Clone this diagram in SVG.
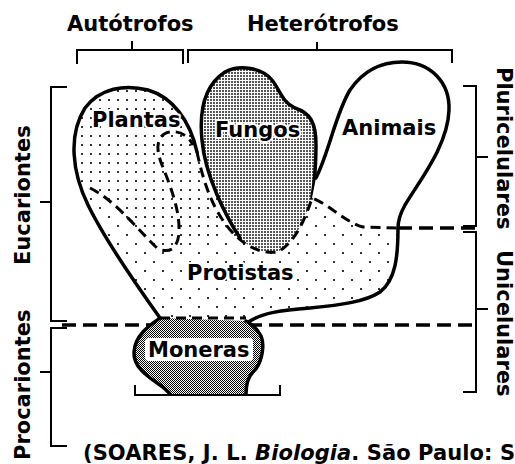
<svg xmlns="http://www.w3.org/2000/svg" width="515" height="464" viewBox="0 0 515 464">
<style>
.t{font-family:"DejaVu Sans","Liberation Sans",sans-serif;font-weight:bold;font-size:21px;fill:#000}
.halo{stroke:#fff;stroke-width:4;stroke-linejoin:round;paint-order:stroke}
.ol{fill:none;stroke:#000;stroke-width:3.5;stroke-linejoin:round;stroke-linecap:round}
.ds{fill:none;stroke:#000;stroke-width:3;stroke-dasharray:10 6}
.hd{fill:none;stroke:#000;stroke-width:3.5;stroke-dasharray:14 7}
.br{fill:none;stroke:#000;stroke-width:2}
</style>
<defs>
<pattern id="pDense" width="9" height="9" patternUnits="userSpaceOnUse"><rect x="0" y="0" width="2" height="2" fill="#333"/></pattern>
<pattern id="pSparse" width="18" height="18" patternUnits="userSpaceOnUse"><rect x="0" y="0" width="2" height="2" fill="#333"/><rect x="9" y="9" width="2" height="2" fill="#333"/></pattern>
<pattern id="pFungos" width="3" height="3" patternUnits="userSpaceOnUse"><rect width="3" height="3" fill="#fff"/><rect x="0" y="0" width="2" height="2" fill="#555"/></pattern>
<pattern id="pMoneras" width="2" height="2" patternUnits="userSpaceOnUse"><rect width="2" height="2" fill="#fff"/><rect x="0" y="0" width="1" height="1" fill="#000"/><rect x="1" y="1" width="1" height="1" fill="#000"/></pattern>
</defs>
<rect width="515" height="464" fill="#fff"/>

<g id="protistas">
<path d="M160,318 C140,290 105,240 88,205 C72,172 68,135 85,108 C100,88 125,84 148,90 C172,97 190,120 197,152 L205,152 L310,165 L312,198 C330,205 345,222 363,227 L398,228 C398,255 396,280 380,292 C365,302 340,305 310,308 C285,310 262,312 247,323 L246,321 Z" fill="url(#pSparse)"/>
<path class="ol" d="M398,228 C398,255 396,280 380,292 C365,302 340,305 310,308 C285,310 262,312 247,323"/>
<text class="t halo" x="187" y="280">Protistas</text>
</g>

<g id="plantas">
<path d="M84,195 C72,165 68,135 85,108 C100,88 125,84 148,90 C172,97 190,120 197,152 C203,180 212,210 232,232 L178,250 C165,253 160,250 157,248 C140,232 115,200 90,188 Z" fill="url(#pDense)"/>
<path class="ol" d="M160,318 C140,290 105,240 88,205 C72,172 68,135 85,108 C100,88 125,84 148,90 C172,97 190,120 197,152"/>
<text class="t halo" x="92" y="127">Plantas</text>
</g>

<g id="fungos">
<path d="M240,238 C225,215 205,175 202,140 C199,110 205,85 225,72 C240,64 262,68 272,80 C280,90 282,102 295,108 C310,113 316,122 316,145 C316,165 314,185 312,198 C305,220 295,242 278,252 C262,254 250,248 240,238 Z" fill="url(#pFungos)"/>
<path class="ol" d="M240,238 C225,215 205,175 202,140 C199,110 205,85 225,72 C240,64 262,68 272,80 C280,90 282,102 295,108 C310,113 316,122 316,145 C316,165 314,185 312,198"/>
<text class="t halo" x="215" y="137">Fungos</text>
</g>

<g id="animais">
<path d="M316,178 C330,150 335,115 350,90 C365,68 385,62 402,62 C430,62 450,82 449,110 C448,145 420,180 405,205 C400,214 398,222 398,228 L363,227 C345,222 330,205 312,198 Z" fill="#fff"/>
<path class="ol" d="M316,178 C330,150 335,115 350,90 C365,68 385,62 402,62 C430,62 450,82 449,110 C448,145 420,180 405,205 C400,214 398,222 398,228"/>
<text class="t" x="342" y="135">Animais</text>
</g>

<g id="connectors">
<path class="ds" d="M197,152 C203,180 212,210 232,232 C245,246 260,254 278,252 C295,242 305,220 312,198 C330,205 345,222 363,227 L398,228"/>
<path class="ds" d="M90,188 C115,200 140,232 157,248 C168,254 178,250 179,232 C180,210 170,185 162,165 C156,150 156,138 166,133 C178,129 188,135 193,145"/>
<path class="hd" d="M398,228 H476"/>
<path class="hd" d="M62,325 H150"/>
<path class="hd" d="M248,325 H476"/>
</g>

<g id="moneras">
<path d="M160,318 C150,325 135,335 134,352 C133,368 150,378 160,385 C166,389 168,392 170,394 L246,394 C246,386 247,378 253,372 C262,364 265,345 261,336 C257,328 252,324 246,321 Z" fill="url(#pMoneras)"/>
<path class="ol" d="M160,318 C150,325 135,335 134,352 C133,368 150,378 160,385 C166,389 168,392 170,394"/>
<path class="ol" d="M246,394 C246,386 247,378 253,372 C262,364 265,345 261,336 C257,328 252,324 246,321"/>
<path class="ds" d="M160,318 H246"/>
<rect x="145" y="338" width="108" height="23" rx="4" fill="#fff"/>
<text class="t" x="148" y="357">Moneras</text>
</g>

<g id="brackets">
<path class="br" d="M77,64 V50 H183 V64 M132,50 V41"/>
<path class="br" d="M188,63 V50 H452 V63 M317,50 V42"/>
<path class="br" d="M67,87 H51 V321 H67 M40,202 H51"/>
<path class="br" d="M67,328 H51 V446 H67 M40,372 H51"/>
<path class="br" d="M463,86 H476 V226 H463 M476,157 H488"/>
<path class="br" d="M463,232 H476 V392 H463 M476,309 H488"/>
<path class="br" d="M135,385 V395 H280 V385"/>
</g>

<g id="labels">
<text class="t" x="67" y="31">Autótrofos</text>
<text class="t" x="247" y="31">Heterótrofos</text>
<text class="t" transform="translate(30,265) rotate(-90)">Eucariontes</text>
<text class="t" transform="translate(30,460) rotate(-90)">Procariontes</text>
<text class="t" transform="translate(497,67) rotate(90)">Pluricelulares</text>
<text class="t" transform="translate(497,250) rotate(90)">Unicelulares</text>
<text class="t" x="83" y="460" textLength="432" lengthAdjust="spacing">(SOARES, J. L. <tspan font-style="italic">Biologia</tspan>. São Paulo: S</text>
</g>
</svg>
